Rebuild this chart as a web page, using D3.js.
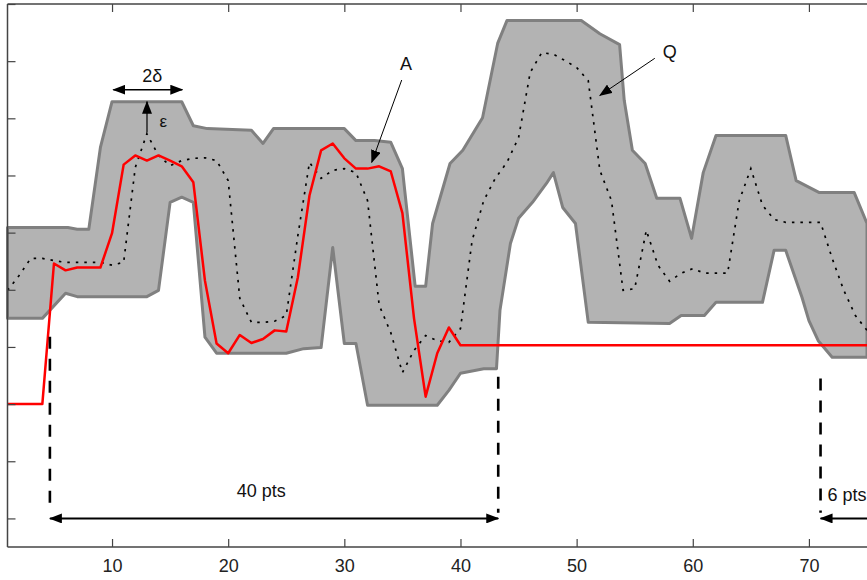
<!DOCTYPE html>
<meta charset="utf-8">
<style>
    body { margin: 0; background: #fff; }
    svg { display: block; font-family: "Liberation Sans", Arial, Helvetica, sans-serif; }
    .axis .domain { display: none; }
    .axis line { stroke: #444; stroke-width: 1.2; }
    .axis text { fill: #222; font-size: 18px; }
</style>
<svg width="867" height="580"></svg>
<script src="https://d3js.org/d3.v7.min.js"></script>
<script>

// candidate series A (one value per point t = 1..75)
var seriesA = [-4.0, -4.0, -4.0, -4.0, -1.54, -1.66, -1.61, -1.61, -1.61, -1.01,
    0.19, 0.35, 0.26, 0.35, 0.26, 0.16, -0.12, -1.84, -2.94, -3.11,
    -2.79, -2.93, -2.86, -2.71, -2.73, -1.78, -0.35, 0.44, 0.56, 0.30,
    0.12, 0.12, 0.16, 0.07, -0.66, -2.50, -3.87, -3.11, -2.66, -2.97,
    -2.97, -2.97, -2.97, -2.97, -2.97, -2.97, -2.97, -2.97, -2.97, -2.97,
    -2.97, -2.97, -2.97, -2.97, -2.97, -2.97, -2.97, -2.97, -2.97, -2.97,
    -2.97, -2.97, -2.97, -2.97, -2.97, -2.97, -2.97, -2.97, -2.97, -2.97,
    -2.97, -2.97, -2.97, -2.97, -2.97];

// query series Q (dotted)
var seriesQ = [-2.01, -1.75, -1.45, -1.45, -1.49, -1.52, -1.52, -1.52, -1.52, -1.57,
    -1.52, 0.14, 0.73, 0.35, 0.17, 0.26, 0.30, 0.31, 0.26, -0.09,
    -2.15, -2.57, -2.57, -2.55, -2.45, -1.05, 0.23, -0.05, 0.09, 0.12,
    0.05, -0.44, -2.27, -2.75, -3.45, -3.06, -2.80, -2.89, -2.92, -2.68,
    -1.14, -0.44, -0.05, 0.23, 0.66, 1.80, 2.15, 2.12, 2.01, 1.89,
    1.66, 0.09, -0.44, -2.01, -1.98, -0.96, -1.57, -1.85, -1.71, -1.63,
    -1.71, -1.71, -1.71, -0.44, 0.12, -0.52, -0.77, -0.82, -0.82, -0.82,
    -0.82, -1.45, -2.01, -2.45, -2.71];

// envelope around Q: [t, value] vertices
var upperEnv = [[1, -0.91], [6.2, -0.91], [7, -0.94], [8, -0.94], [9, 0.49], [10, 1.29],
    [16, 1.29], [17, 0.87], [18.2, 0.82], [22, 0.79], [23, 0.56], [23.9, 0.82],
    [30, 0.82], [31, 0.61], [32.6, 0.61], [34, 0.58], [35, 0.12], [35.2, -0.26],
    [36.1, -1.94], [37, -1.94], [37.6, -0.84], [39.1, 0.21], [40.2, 0.44], [41.9, 1.01],
    [43.2, 2.31], [44, 2.71], [50.4, 2.71], [52, 2.48], [53.7, 2.29], [54.1, 1.31],
    [54.8, 0.44], [55.9, 0.21], [56.9, -0.40], [58.9, -0.40], [59.9, -1.10], [60.9, 0.05],
    [62, 0.70], [68, 0.70], [68.9, -0.09], [70.9, -0.30], [73.9, -0.30], [75, -0.84]];

var lowerEnv = [[1, -2.50], [4, -2.50], [6, -2.06], [7, -2.12], [13, -2.12], [14, -2.01],
    [15, -0.47], [16, -0.38], [17, -0.47], [18, -2.83], [19, -3.11], [25, -3.11],
    [26.5, -3.03], [28, -3.01], [29, -1.26], [30, -2.94], [31, -2.94], [32, -4.02],
    [38, -4.02], [39, -3.76], [40, -3.46], [42, -3.38], [43.1, -3.38], [43.4, -2.36],
    [44.3, -1.19], [45, -0.75], [46.2, -0.47], [47.4, -0.14], [48, 0.05], [48.8, -0.56],
    [49.9, -0.84], [51, -2.57], [58, -2.59], [59, -2.45], [61, -2.45], [62, -2.22],
    [66, -2.22], [67, -1.31], [68, -1.31], [69.4, -2.13], [70, -2.54], [70.8, -2.89],
    [72, -3.18], [75, -3.18]];

var xTicks = [10, 20, 30, 40, 50, 60, 70];
var yTicks = [-6, -5, -4, -3, -2, -1, 0, 1, 2, 3];

// dashed markers for the matched window
var windowMarks = [[4.65, -2.82], [43.25, -3.52], [71.0, -3.55]];

var svg = d3.select("svg");

var x = d3.scaleLinear().domain([1, 75]).range([7.5, 867]);
var y = d3.scaleLinear().domain([-6.5, 3]).range([547, 4]);

var defs = svg.append("defs");
defs.append("marker")
    .attr("id", "head")
    .attr("viewBox", "0 0 13 10")
    .attr("refX", 12).attr("refY", 5)
    .attr("markerWidth", 13).attr("markerHeight", 10)
    .attr("markerUnits", "userSpaceOnUse")
    .attr("orient", "auto-start-reverse")
    .append("path").attr("d", "M0,0L13,5L0,10z").attr("fill", "#000");

var line = d3.line()
    .x(function(d) { return x(d[0]); })
    .y(function(d) { return y(d[1]); });

// envelope
var poly = upperEnv.concat(lowerEnv.slice().reverse());
svg.append("path")
    .attr("d", line(poly) + "Z")
    .attr("fill", "#b3b3b3")
    .attr("stroke", "#808080")
    .attr("stroke-width", 3)
    .attr("stroke-linejoin", "round");

// Q dotted
svg.append("path")
    .attr("d", line(seriesQ.map(function(v, i) { return [i + 1, v]; })))
    .attr("fill", "none")
    .attr("stroke", "#000")
    .attr("stroke-width", 1.7)
    .attr("stroke-dasharray", "2.5,6");

// A red
svg.append("path")
    .attr("d", line(seriesA.map(function(v, i) { return [i + 1, v]; })))
    .attr("fill", "none")
    .attr("stroke", "#ff0000")
    .attr("stroke-width", 2.5)
    .attr("stroke-linejoin", "round");

// axes box
svg.append("g").attr("class", "axis")
    .attr("transform", "translate(0," + y(-6.5) + ")")
    .call(d3.axisBottom(x).tickValues(xTicks).tickSizeInner(-8).tickSizeOuter(0).tickPadding(12).tickFormat(d3.format("d")));
svg.append("g").attr("class", "axis")
    .attr("transform", "translate(0," + y(3) + ")")
    .call(d3.axisTop(x).tickValues(xTicks).tickSizeInner(-8).tickSizeOuter(0).tickFormat(""));
svg.append("g").attr("class", "axis")
    .attr("transform", "translate(" + x(1) + ",0)")
    .call(d3.axisLeft(y).tickValues(yTicks).tickSizeInner(-8).tickSizeOuter(0).tickFormat(""));

svg.append("line").attr("x1", x(1)).attr("x2", 867).attr("y1", y(3)).attr("y2", y(3))
    .attr("stroke", "#444").attr("stroke-width", 1.5);
svg.append("line").attr("x1", x(1)).attr("x2", 867).attr("y1", y(-6.5)).attr("y2", y(-6.5))
    .attr("stroke", "#444").attr("stroke-width", 1.5);
svg.append("line").attr("x1", x(1)).attr("x2", x(1)).attr("y1", y(3)).attr("y2", y(-6.5))
    .attr("stroke", "#444").attr("stroke-width", 1.5);

// dashed verticals
svg.selectAll(".win").data(windowMarks).enter().append("line")
    .attr("x1", function(d) { return x(d[0]); })
    .attr("x2", function(d) { return x(d[0]); })
    .attr("y1", function(d) { return y(d[1]); })
    .attr("y2", y(-5.9))
    .attr("stroke", "#000")
    .attr("stroke-width", 2.6)
    .attr("stroke-dasharray", "12,10");

function arrow(x1, y1, x2, y2, both, w) {
    var l = svg.append("line")
        .attr("x1", x(x1)).attr("y1", y(y1))
        .attr("x2", x(x2)).attr("y2", y(y2))
        .attr("stroke", "#000").attr("stroke-width", w || 1.2)
        .attr("marker-end", "url(#head)");
    if (both) l.attr("marker-start", "url(#head)");
}

function label(t, v, s, size, anchor) {
    svg.append("text")
        .attr("x", x(t)).attr("y", y(v))
        .attr("font-size", size)
        .attr("text-anchor", anchor || "middle")
        .attr("fill", "#111")
        .text(s);
}

// 2 delta / epsilon
arrow(10.11, 1.50, 16.05, 1.50, true, 1.6);
label(13.47, 1.64, "2δ", 18);
arrow(13.01, 0.75, 13.01, 1.29, false, 1.2);
label(14.41, 0.84, "ε", 17);

// A and Q labels
label(35.31, 1.84, "A", 18);
arrow(34.94, 1.67, 32.36, 0.23, false, 1);
label(58.02, 2.06, "Q", 18);
arrow(56.73, 2.05, 52.0, 1.40, false, 1);

// window widths
arrow(4.65, -6.0, 43.25, -6.0, true, 2);
label(22.84, -5.63, "40 pts", 18);
arrow(71.0, -6.0, 76.5, -6.0, true, 2);
label(71.6, -5.69, "6 pts", 18, "start");

</script>
